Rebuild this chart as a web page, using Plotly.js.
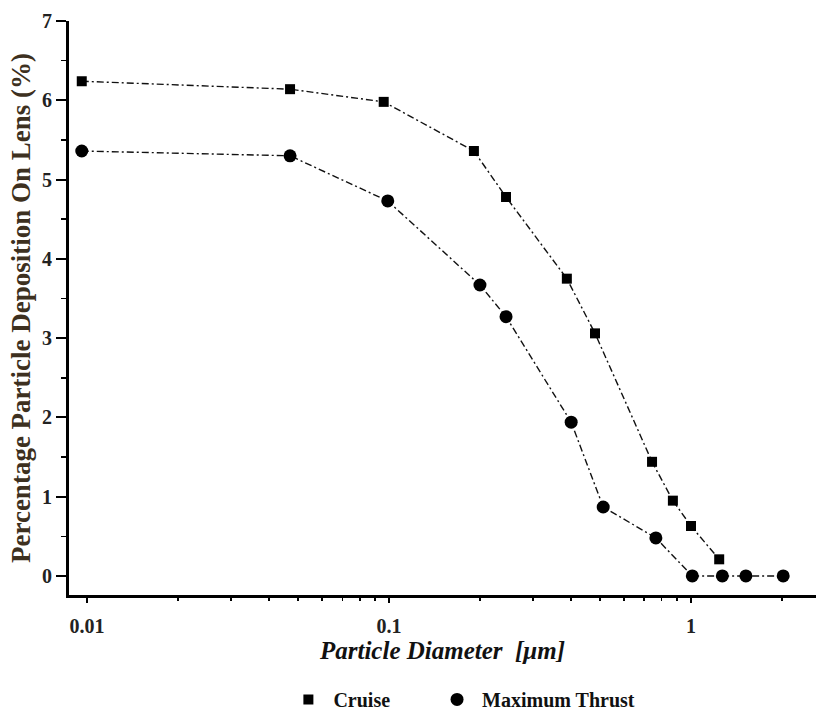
<!DOCTYPE html>
<html>
<head>
<meta charset="utf-8">
<script src="https://cdn.plot.ly/plotly-3.0.1.min.js"></script>
<style>html,body{margin:0;padding:0;background:#fff}#chart{width:818px;height:713px}</style>
</head>
<body>
<div id="chart"></div>
<script>
// Data
var cruiseDiameter = [0.0096, 0.047, 0.096, 0.191, 0.244, 0.388, 0.481, 0.743, 0.871, 1.0, 1.24];
var cruiseDeposition = [6.24, 6.14, 5.98, 5.36, 4.78, 3.75, 3.06, 1.44, 0.95, 0.63, 0.21];
var thrustDiameter = [0.0096, 0.047, 0.099, 0.200, 0.244, 0.401, 0.512, 0.765, 1.01, 1.27, 1.52, 2.02];
var thrustDeposition = [5.36, 5.30, 4.73, 3.67, 3.27, 1.94, 0.87, 0.48, 0.0, 0.0, 0.0, 0.0];
var xTickVals = [0.01, 0.1, 1];
var xTickText = ['0.01', '0.1', '1'];
var xMinorVals = [0.02,0.03,0.04,0.05,0.06,0.07,0.08,0.09,0.2,0.3,0.4,0.5,0.6,0.7,0.8,0.9,2];
var seriesNames = ['Cruise', 'Maximum Thrust'];

var serif = 'Liberation Serif, Times New Roman, serif';
var lineStyle = {color: '#111', width: 1.4, dash: '7px,3px,2px,3px'};

var traces = [
  {x: cruiseDiameter, y: cruiseDeposition, mode: 'lines', line: lineStyle, showlegend: false, hoverinfo: 'skip'},
  {x: thrustDiameter, y: thrustDeposition, mode: 'lines', line: lineStyle, showlegend: false, hoverinfo: 'skip'},
  {x: cruiseDiameter, y: cruiseDeposition, mode: 'markers', name: seriesNames[0], legend: 'legend',
   marker: {symbol: 'square', size: 10, color: '#000'}},
  {x: thrustDiameter, y: thrustDeposition, mode: 'markers', name: seriesNames[1], legend: 'legend2',
   marker: {symbol: 'circle', size: 13, color: '#000'}}
];

var legendFont = {family: serif, size: 20, color: '#111', weight: 'bold'};

var layout = {
  width: 818, height: 713,
  margin: {l: 69, r: 2, t: 21, b: 118, autoexpand: false},
  paper_bgcolor: '#fff', plot_bgcolor: '#fff',
  font: {family: serif, color: '#111'},
  xaxis: {
    type: 'log', range: [-2.06, 0.414], automargin: false,
    tickmode: 'array', tickvals: xTickVals, ticktext: xTickText,
    ticks: 'outside', ticklen: 5, tickwidth: 2, tickcolor: '#000',
    ticklabelstandoff: 6,
    minor: {tickmode: 'array', tickvals: xMinorVals, ticks: 'outside', ticklen: 3, tickwidth: 1.5, tickcolor: '#000', showgrid: false},
    showgrid: false, zeroline: false,
    showline: true, linecolor: '#000', linewidth: 3,
    tickfont: {family: serif, size: 20, color: '#222', weight: 'bold'},
    title: {text: '<b><i>Particle Diameter  [μm]</i></b>', font: {family: serif, size: 25, color: '#111'}, standoff: 6}
  },
  yaxis: {
    range: [-0.24, 7], dtick: 1, tick0: 0, automargin: false,
    ticks: 'outside', ticklen: 10, tickwidth: 2, tickcolor: '#000',
    minor: {dtick: 0.5, ticks: 'outside', ticklen: 5, tickwidth: 1.5, tickcolor: '#000', showgrid: false},
    showgrid: false, zeroline: false,
    showline: true, linecolor: '#000', linewidth: 3,
    tickfont: {family: serif, size: 20, color: '#222', weight: 'bold'},
    title: {text: '<b>Percentage Particle Deposition On Lens (%)</b>', font: {family: serif, size: 27, color: '#3d3020'}, standoff: 4}
  },
  legend: {
    x: 0.287, xanchor: 'left', y: -0.148, yanchor: 'top',
    font: legendFont, itemwidth: 40, bgcolor: 'rgba(0,0,0,0)'
  },
  legend2: {
    x: 0.486, xanchor: 'left', y: -0.148, yanchor: 'top',
    font: legendFont, itemwidth: 40, bgcolor: 'rgba(0,0,0,0)'
  },
  showlegend: true
};

Plotly.newPlot('chart', traces, layout, {displayModeBar: false, staticPlot: true});
</script>
</body>
</html>
